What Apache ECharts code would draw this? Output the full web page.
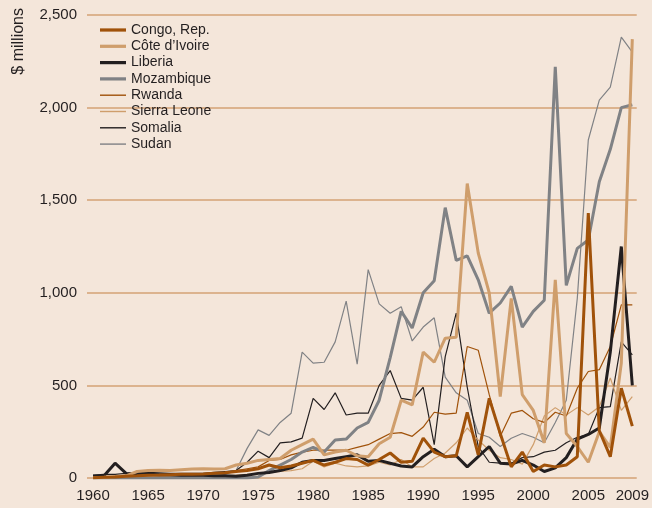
<!DOCTYPE html>
<html>
<head>
<meta charset="utf-8">
<script src="https://cdn.jsdelivr.net/npm/echarts@6/dist/echarts.min.js"></script>
<style>
  html, body { margin: 0; padding: 0; background: #f4e6da; }
  #chart { width: 652px; height: 508px; }
</style>
</head>
<body>
<div id="chart"></div>
<script>
// years on the x axis
var years = [1960, 1961, 1962, 1963, 1964, 1965, 1966, 1967, 1968, 1969,
  1970, 1971, 1972, 1973, 1974, 1975, 1976, 1977, 1978, 1979,
  1980, 1981, 1982, 1983, 1984, 1985, 1986, 1987, 1988, 1989,
  1990, 1991, 1992, 1993, 1994, 1995, 1996, 1997, 1998, 1999,
  2000, 2001, 2002, 2003, 2004, 2005, 2006, 2007, 2008, 2009]
var xTicks = [1960, 1965, 1970, 1975, 1980, 1985, 1990, 1995, 2000, 2005, 2009]

// $ millions, 1960 -> 2009
var congo = [2, 4, 6, 10, 12, 15, 16, 18, 20, 20,
  22, 25, 28, 35, 40, 50, 70, 55, 65, 80,
  95, 70, 85, 105, 100, 70, 100, 135, 85, 90,
  215, 140, 115, 120, 355, 125, 430, 240, 60, 140,
  35, 70, 60, 70, 115, 1430, 255, 115, 485, 280]
var coteIvoire = [2, 4, 8, 12, 35, 40, 42, 40, 45, 48,
  50, 48, 50, 70, 80, 95, 100, 105, 150, 180,
  210, 125, 140, 150, 120, 115, 185, 220, 420, 395,
  680, 625, 755, 760, 1590, 1215, 1000, 440, 970, 450,
  365, 190, 1070, 240, 170, 85, 250, 165, 620, 2370]
var liberia = [10, 12, 80, 25, 20, 20, 18, 18, 15, 15,
  15, 12, 12, 10, 15, 25, 30, 40, 55, 85,
  95, 95, 105, 115, 125, 90, 95, 80, 65, 60,
  115, 155, 115, 120, 60, 115, 170, 80, 75, 95,
  70, 35, 55, 110, 210, 235, 270, 680, 1250, 500]
var mozambique = [0, 0, 0, 0, 0, 0, 0, 0, 0, 0,
  0, 0, 0, 0, 0, 5, 40, 70, 100, 140,
  165, 140, 205, 210, 270, 300, 420, 650, 900, 810,
  1000, 1065, 1460, 1175, 1200, 1070, 890, 945, 1035, 815,
  900, 960, 2220, 1040, 1240, 1285, 1600, 1775, 2000, 2015]
var rwanda = [0, 0, 10, 12, 15, 15, 15, 18, 20, 20,
  22, 25, 30, 40, 50, 60, 95, 100, 125, 140,
  150, 150, 150, 150, 165, 180, 210, 240, 245, 225,
  275, 355, 345, 350, 710, 690, 450, 225, 350, 365,
  320, 300, 355, 335, 485, 575, 585, 710, 935, 935]
var sierraLeone = [2, 3, 5, 5, 8, 10, 10, 12, 12, 10,
  10, 12, 12, 15, 20, 25, 30, 35, 40, 50,
  90, 60, 80, 65, 60, 65, 85, 70, 100, 60,
  60, 105, 135, 190, 270, 205, 150, 110, 100, 75,
  180, 335, 380, 340, 380, 340, 385, 540, 365, 440]
var somalia = [15, 20, 20, 25, 30, 30, 28, 25, 25, 25,
  25, 30, 35, 40, 85, 145, 110, 190, 195, 215,
  430, 370, 460, 340, 350, 350, 500, 580, 430, 420,
  490, 180, 655, 890, 490, 170, 85, 80, 80, 110,
  115, 140, 150, 190, 220, 235, 380, 385, 735, 665]
var sudan = [5, 5, 5, 10, 10, 15, 15, 10, 10, 10,
  10, 10, 20, 40, 160, 260, 230, 300, 350, 680,
  620, 625, 735, 955, 615, 1125, 940, 890, 925, 740,
  815, 865, 545, 460, 420, 240, 220, 170, 215, 240,
  220, 190, 300, 420, 970, 1825, 2040, 2110, 2380, 2300]

var brown = '#a0520a'
var tan = '#cf9e6c'
var black = '#231f20'
var gray = '#808285'
var font = '"Liberation Sans", Arial, sans-serif'

// legend swatches: flat bars, thick or thin
var thickIcon = 'path://M0,0h24v3h-24z'
var thinIcon = 'path://M0,0h24v1.3h-24z'

function pairs (vals) {
  return years.map(function (y, i) { return [y, vals[i]] })
}

function line (name, vals, color, width) {
  return {
    name: name,
    type: 'line',
    data: pairs(vals),
    symbol: 'none',
    animation: false,
    lineStyle: { color: color, width: width },
    itemStyle: { color: color }
  }
}

var chart = echarts.init(document.getElementById('chart'))
chart.setOption({
  backgroundColor: '#f4e6da',
  textStyle: { fontFamily: font },
  grid: { left: 87, right: 15, top: 15, bottom: 30 },
  legend: {
    orient: 'vertical',
    left: 95,
    top: 18,
    itemWidth: 26,
    itemHeight: 14,
    itemGap: 2.3,
    textStyle: { fontFamily: font, fontSize: 14, color: '#231f20' },
    data: [
      { name: 'Congo, Rep.', icon: thickIcon },
      { name: 'Côte d\u2019Ivoire', icon: thickIcon },
      { name: 'Liberia', icon: thickIcon },
      { name: 'Mozambique', icon: thickIcon },
      { name: 'Rwanda', icon: thinIcon },
      { name: 'Sierra Leone', icon: thinIcon },
      { name: 'Somalia', icon: thinIcon },
      { name: 'Sudan', icon: thinIcon }
    ]
  },
  graphic: [{
    type: 'text',
    left: 11,
    top: 8,
    rotation: Math.PI / 2,
    style: { text: '$ millions', font: '16px ' + font, fill: '#231f20' }
  }],
  xAxis: {
    type: 'value',
    min: 1959.45,
    max: 2009.4,
    axisLine: { show: false },
    axisTick: { show: false },
    splitLine: { show: false },
    axisLabel: {
      customValues: xTicks,
      margin: 10,
      fontSize: 15,
      color: '#231f20',
      fontFamily: font,
      formatter: function (v) { return String(v) }
    }
  },
  yAxis: {
    type: 'value',
    min: 0,
    max: 2500,
    interval: 500,
    axisLine: { show: false },
    axisTick: { show: false },
    splitLine: { lineStyle: { color: '#d4a274', width: 1.5 } },
    axisLabel: {
      margin: 10,
      fontSize: 15,
      color: '#231f20',
      fontFamily: font,
      formatter: function (v) { return v.toLocaleString('en-US') }
    }
  },
  series: [
    line('Sudan', sudan, gray, 1.2),
    line('Somalia', somalia, black, 1.2),
    line('Sierra Leone', sierraLeone, tan, 1.2),
    line('Rwanda', rwanda, brown, 1.2),
    line('Mozambique', mozambique, gray, 3),
    line('Liberia', liberia, black, 3),
    line('Côte d\u2019Ivoire', coteIvoire, tan, 3),
    line('Congo, Rep.', congo, brown, 3)
  ]
})
</script>
</body>
</html>
